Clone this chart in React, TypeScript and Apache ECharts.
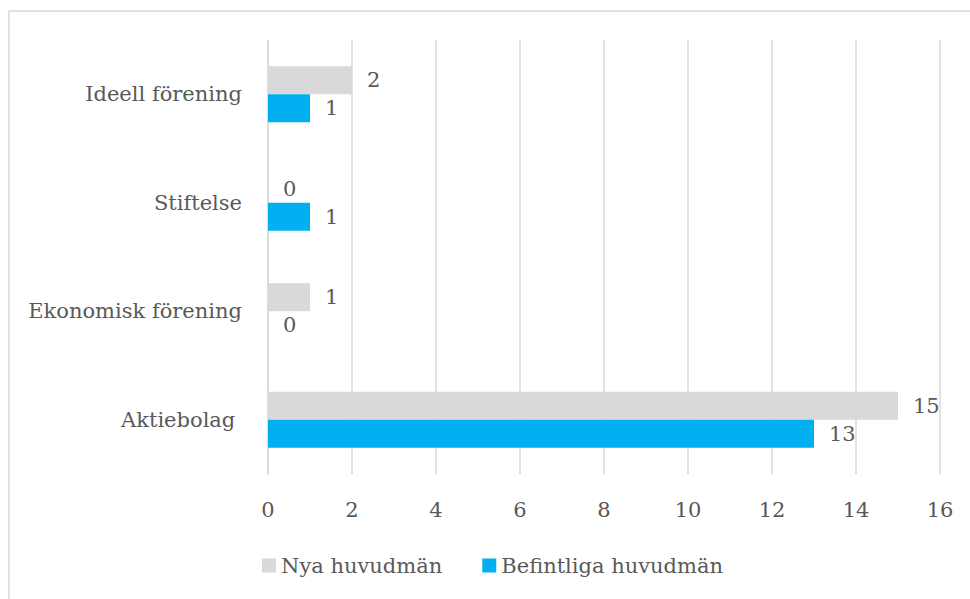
import React, { useEffect, useRef } from "react";
import * as echarts from "echarts";

const categories = ["Aktiebolag ", "Ekonomisk förening", "Stiftelse", "Ideell förening"];
const nyaHuvudman = [15, 1, 0, 2];
const befintligaHuvudman = [13, 0, 1, 1];
const seriesNames = ["Nya huvudmän", "Befintliga huvudmän"];
const xTicks = { min: 0, max: 16, interval: 2 };

const FONT = "DejaVu Serif";
const FS = 21;
const TEXT = "#595959";

export default function App() {
  const ref = useRef<HTMLDivElement>(null);
  useEffect(() => {
    if (!ref.current) return;
    const chart = echarts.init(ref.current, undefined, { renderer: "svg" });
    const labelCommon = {
      show: true,
      position: "right" as const,
      distance: 15,
      color: TEXT,
      fontFamily: FONT,
      fontSize: FS,
    };
    chart.setOption({
      animation: false,
      backgroundColor: "#ffffff",
      textStyle: { fontFamily: FONT },
      graphic: [
        {
          type: "rect",
          shape: { x: 9, y: 11, width: 965, height: 600 },
          style: { fill: "none", stroke: "#d9d9d9", lineWidth: 1.5 },
          silent: true,
          z: -1,
        },
      ],
      grid: { left: 268, right: 30, top: 40, bottom: 125, containLabel: false },
      legend: {
        data: seriesNames,
        left: 257,
        top: 550,
        icon: "rect",
        itemWidth: 14,
        itemHeight: 14,
        itemGap: 40,
        textStyle: { color: TEXT, fontFamily: FONT, fontSize: FS, padding: [0, 0, 0, 0] },
      },
      xAxis: {
        type: "value",
        min: xTicks.min,
        max: xTicks.max,
        interval: xTicks.interval,
        axisLine: { show: false },
        axisTick: { show: false },
        splitLine: { show: true, lineStyle: { color: "#d9d9d9", width: 1.5 } },
        axisLabel: { color: TEXT, fontFamily: FONT, fontSize: FS, margin: 25 },
      },
      yAxis: {
        type: "category",
        data: categories,
        axisLine: { show: true, lineStyle: { color: "#d9d9d9", width: 1.5 } },
        axisTick: { show: false },
        axisLabel: { color: TEXT, fontFamily: FONT, fontSize: FS, margin: 26 },
      },
      series: [
        {
          name: seriesNames[0],
          type: "bar",
          data: nyaHuvudman,
          itemStyle: { color: "#d9d9d9" },
          barGap: "0%",
          barCategoryGap: "48.5%",
          label: labelCommon,
        },
        {
          name: seriesNames[1],
          type: "bar",
          data: befintligaHuvudman,
          itemStyle: { color: "#00b0f0" },
          barGap: "0%",
          barCategoryGap: "48.5%",
          label: labelCommon,
        },
      ],
    });
    return () => chart.dispose();
  }, []);
  return (
    <div
      ref={ref}
      style={{ position: "absolute", left: 0, top: 0, width: 970, height: 599 }}
    />
  );
}
